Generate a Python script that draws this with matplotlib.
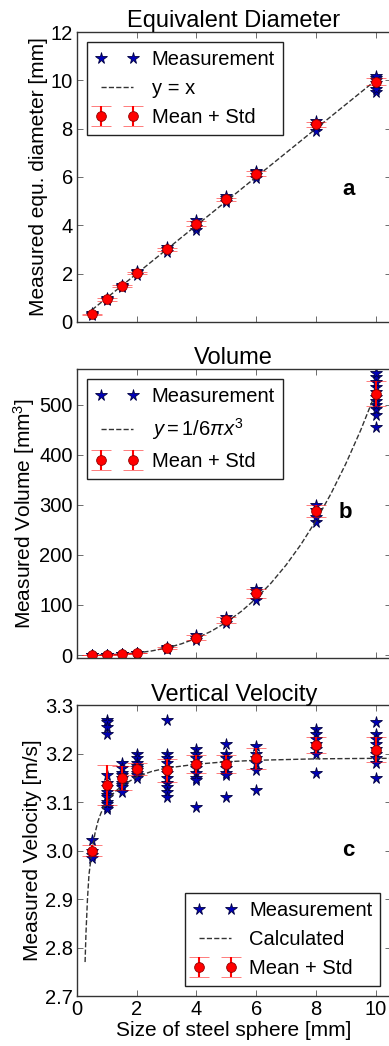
import numpy as np
import matplotlib
matplotlib.use("Agg")
from matplotlib import pyplot as plt

plt.rcParams['font.family'] = ['Liberation Sans', 'DejaVu Sans']
plt.rcParams['mathtext.fontset'] = 'custom'
plt.rcParams['mathtext.rm'] = 'Liberation Sans'
plt.rcParams['mathtext.it'] = 'Liberation Sans:italic'

# sphere sizes [mm]
sizes = [0.5, 1, 1.5, 2, 3, 4, 5, 6, 8, 10]

# panel a : equivalent diameter
diam_meas = [
    [0.28, 0.32, 0.36],
    [0.9, 0.95, 1.0],
    [1.45, 1.5, 1.55],
    [1.95, 2.05, 2.1],
    [2.9, 3.0, 3.1],
    [3.8, 3.95, 4.1, 4.2],
    [4.95, 5.05, 5.15, 5.2],
    [5.95, 6.1, 6.2, 6.25],
    [7.9, 8.1, 8.2, 8.3],
    [9.5, 9.65, 9.9, 10.0, 10.1, 10.2],
]
diam_mean = [0.32, 0.93, 1.5, 2.02, 3.0, 4.07, 5.08, 6.13, 8.18, 9.95]
diam_std = [0.03, 0.05, 0.04, 0.05, 0.06, 0.1, 0.07, 0.1, 0.1, 0.15]
line_a_x = [0.5, 10]
line_a_y = [0.5, 10]

# panel b : volume
vol_meas = [
    [0.05, 0.1, 0.15],
    [0.4, 0.5, 0.6],
    [1.5, 1.8, 2.1],
    [3.8, 4.3, 4.8],
    [12, 14, 16],
    [30, 35, 40],
    [63, 70, 75],
    [110, 120, 128, 132],
    [265, 275, 290, 300],
    [455, 480, 492, 500, 508, 515, 525, 535, 545, 555, 563],
]
vol_mean = [0.1, 0.5, 1.8, 4.3, 14, 35, 69, 123, 288, 522]
vol_std = [0.1, 0.2, 0.3, 0.6, 2, 4, 6, 9, 12, 25]
line_b_x = [0.5, 1, 1.5, 2, 2.5, 3, 3.5, 4, 4.5, 5, 5.5, 6, 6.5, 7, 7.5, 8, 8.5, 9, 9.5, 10]
line_b_y = [0.07, 0.52, 1.77, 4.19, 8.18, 14.1, 22.4, 33.5, 47.7, 65.4, 87.1, 113.1,
            143.8, 179.6, 220.9, 268.1, 321.6, 381.7, 448.9, 523.6]

# panel c : vertical velocity
vel_meas = [
    [3.022, 3.0, 2.99, 2.985],
    [3.27, 3.265, 3.255, 3.24, 3.155, 3.14, 3.13, 3.12, 3.115, 3.11, 3.1, 3.095, 3.09, 3.085],
    [3.18, 3.17, 3.16, 3.155, 3.15, 3.14, 3.135, 3.13, 3.12],
    [3.2, 3.19, 3.18, 3.175, 3.17, 3.165, 3.16, 3.155, 3.15],
    [3.27, 3.2, 3.19, 3.18, 3.17, 3.16, 3.15, 3.14, 3.13, 3.12, 3.11],
    [3.21, 3.2, 3.19, 3.18, 3.17, 3.16, 3.15, 3.145, 3.09],
    [3.22, 3.2, 3.19, 3.18, 3.17, 3.16, 3.155, 3.11],
    [3.215, 3.2, 3.19, 3.18, 3.165, 3.125],
    [3.25, 3.24, 3.23, 3.22, 3.21, 3.2, 3.16],
    [3.265, 3.24, 3.23, 3.22, 3.21, 3.2, 3.19, 3.18, 3.15],
]
vel_mean = [3.0, 3.135, 3.15, 3.168, 3.165, 3.178, 3.178, 3.19, 3.218, 3.208]
vel_std = [0.012, 0.041, 0.025, 0.013, 0.023, 0.018, 0.018, 0.021, 0.017, 0.025]
calc_x = [0.27, 0.3, 0.35, 0.4, 0.5, 0.6, 0.7, 0.8, 0.9, 1.0, 1.25, 1.5, 2.0, 2.5,
          3.0, 4.0, 5.0, 6.0, 8.0, 10.0, 10.5]
calc_y = [2.77, 2.83, 2.9, 2.95, 3.0, 3.035, 3.06, 3.077, 3.09, 3.1, 3.12, 3.133, 3.152,
          3.163, 3.17, 3.178, 3.183, 3.186, 3.189, 3.19, 3.19]

STAR_FC = '#0000b8'
STAR_EC = '#000040'
FS_TICK = 14.5
FS_LABEL = 15
FS_TITLE = 17

fig = plt.figure(figsize=(3.89, 10.46), dpi=100)
left, width = 0.198, 0.806
axes = [fig.add_axes([left, 0.6922, width, 0.2772]),
        fig.add_axes([left, 0.3709, width, 0.2763]),
        fig.add_axes([left, 0.0478, width, 0.2782])]


def draw_panel(ax, meas, mean, std, lx, ly, line_label):
    for i, (s, vals) in enumerate(zip(sizes, meas)):
        ax.plot([s] * len(vals), vals, linestyle='none', marker='*', ms=8.5,
                mfc=STAR_FC, mec=STAR_EC, mew=0.6,
                label='Measurement' if i == 0 else None)
    ax.plot(lx, ly, '--', color='#333333', lw=1, label=line_label)
    eb = ax.errorbar(sizes, mean, yerr=std, fmt='o', color='red', ms=7,
                     mec='#900000', mew=0.6, ecolor='red', elinewidth=1.5,
                     capsize=7, capthick=0.8, label='Mean + Std')
    for cap in eb[1]:
        cap.set_alpha(0.6)


def style_axis(ax):
    ax.set_xlim(0, 10.5)
    ax.set_xticks([0, 2, 4, 6, 8, 10])
    ax.tick_params(direction='in', top=True, right=True, length=4,
                   width=0.6, color='#555555', labelsize=FS_TICK, pad=3)
    for sp in ax.spines.values():
        sp.set_color('#333333')
        sp.set_linewidth(1)


leg_kw = dict(numpoints=2, fontsize=FS_TICK, fancybox=False, framealpha=1,
              edgecolor='#222222', handlelength=2.2, borderpad=0.4,
              labelspacing=0.5, handletextpad=0.6, borderaxespad=0.5)

# a
ax = axes[0]
draw_panel(ax, diam_meas, diam_mean, diam_std, line_a_x, line_a_y, 'y = x')
style_axis(ax)
ax.set_ylim(0, 12)
ax.set_yticks(range(0, 13, 2))
ax.set_xticklabels([])
ax.set_ylabel('Measured equ. diameter [mm]', fontsize=FS_LABEL, labelpad=2)
ax.set_title('Equivalent Diameter', fontsize=FS_TITLE, pad=3)
ax.text(9.1, 5.5, 'a', fontsize=16, fontweight='bold', ha='center', va='center')
ax.legend(loc='upper left', **leg_kw).get_frame().set_linewidth(1)

# b
ax = axes[1]
draw_panel(ax, vol_meas, vol_mean, vol_std, line_b_x, line_b_y, r'$y = 1/6\pi x^3$')
style_axis(ax)
ax.set_ylim(-6, 571)
ax.set_yticks(range(0, 501, 100))
ax.set_xticklabels([])
ax.set_ylabel('Measured Volume [mm$^3$]', fontsize=FS_LABEL, labelpad=2)
ax.set_title('Volume', fontsize=FS_TITLE, pad=3)
ax.text(9.0, 285, 'b', fontsize=16, fontweight='bold', ha='center', va='center')
ax.legend(loc='upper left', **leg_kw).get_frame().set_linewidth(1)

# c
ax = axes[2]
draw_panel(ax, vel_meas, vel_mean, vel_std, calc_x, calc_y, 'Calculated')
style_axis(ax)
ax.set_ylim(2.7, 3.3)
ax.set_yticks(np.arange(2.7, 3.31, 0.1))
ax.set_yticklabels(['2.7', '2.8', '2.9', '3.0', '3.1', '3.2', '3.3'])
ax.set_ylabel('Measured Velocity [m/s]', fontsize=FS_LABEL, labelpad=2)
ax.set_xlabel('Size of steel sphere [mm]', fontsize=FS_LABEL, labelpad=1)
ax.set_title('Vertical Velocity', fontsize=FS_TITLE, pad=3)
ax.text(9.1, 3.0, 'c', fontsize=16, fontweight='bold', ha='center', va='center')
ax.legend(loc='lower right', **leg_kw).get_frame().set_linewidth(1)

fig.savefig('out.png', dpi=100)
